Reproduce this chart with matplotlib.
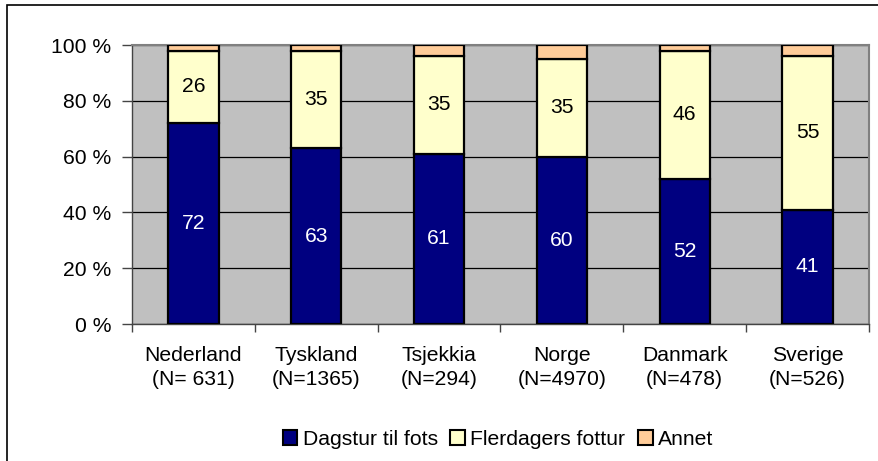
import matplotlib
matplotlib.use("Agg")
import matplotlib.pyplot as plt
from matplotlib.patches import Rectangle, Patch
import numpy as np

plt.rcParams['font.family'] = ['Liberation Sans', 'DejaVu Sans']

categories = ["Nederland\n(N= 631)", "Tyskland\n(N=1365)", "Tsjekkia\n(N=294)",
              "Norge\n(N=4970)", "Danmark\n(N=478)", "Sverige\n(N=526)"]
dagstur = [72, 63, 61, 60, 52, 41]
flerdagers = [26, 35, 35, 35, 46, 55]
annet = [2, 2, 4, 5, 2, 4]
series_names = ["Dagstur til fots", "Flerdagers fottur", "Annet"]
colors = ["#000080", "#FFFFCC", "#FFCC99"]
yticks = [0, 20, 40, 60, 80, 100]

fig = plt.figure(figsize=(8.79, 4.61), dpi=100)
ax = fig.add_axes([132/879, 1-324/461, (869-132)/879, (324-45)/461])
ax.set_facecolor("#C0C0C0")

x = np.arange(len(categories))
w = 0.41
fs = 15.2
bottom = np.zeros(len(categories))
for vals, col, name in zip([dagstur, flerdagers, annet], colors, series_names):
    ax.bar(x, vals, w, bottom=bottom, color=col, edgecolor="black", linewidth=1.6,
           label=name, zorder=3)
    bottom += np.array(vals)

for i in range(len(categories)):
    ax.text(x[i], dagstur[i]/2, str(dagstur[i]), ha="center", va="center",
            color="white", fontsize=fs, zorder=4)
    ax.text(x[i], dagstur[i] + flerdagers[i]/2, str(flerdagers[i]), ha="center",
            va="center", color="black", fontsize=fs, zorder=4)

ax.set_xlim(-0.5, len(categories)-0.5)
ax.set_ylim(0, 100)
ax.set_yticks(yticks)
ax.set_yticklabels([f"{t} %" for t in yticks], fontsize=fs)
ax.yaxis.grid(True, color="black", linewidth=0.9, zorder=1)
ax.set_axisbelow(True)

ax.set_xticks(np.arange(-0.5, len(categories), 1.0))
ax.set_xticklabels([])
ax.set_xticks(x, minor=True)
ax.set_xticklabels(categories, minor=True, fontsize=fs, linespacing=1.3)
ax.tick_params(axis="x", which="minor", length=0, pad=16)
ax.tick_params(axis="x", which="major", length=6, width=1, color="#444444", direction="out")
ax.tick_params(axis="y", length=7, width=1, color="#444444", direction="out", pad=8)

for s in ["top", "right"]:
    ax.spines[s].set_color("#808080")
    ax.spines[s].set_linewidth(1.5)
for s in ["left", "bottom"]:
    ax.spines[s].set_color("#444444")
    ax.spines[s].set_linewidth(1.0)

handles = [Patch(facecolor=c, edgecolor="black", linewidth=1.5) for c in colors]
fig.legend(handles, series_names, loc="center", bbox_to_anchor=(498/879, 1-439/461),
           ncol=3, frameon=False, fontsize=fs, handlelength=0.7, handleheight=0.7,
           handletextpad=0.25, columnspacing=0.6, borderaxespad=0)

fig.patches.append(Rectangle((7/879, -0.05), 1.0, 1 - 5/461 + 0.05,
                             transform=fig.transFigure, fill=False,
                             edgecolor="black", linewidth=1.2, clip_on=False))

fig.savefig("out.png", dpi=100)
